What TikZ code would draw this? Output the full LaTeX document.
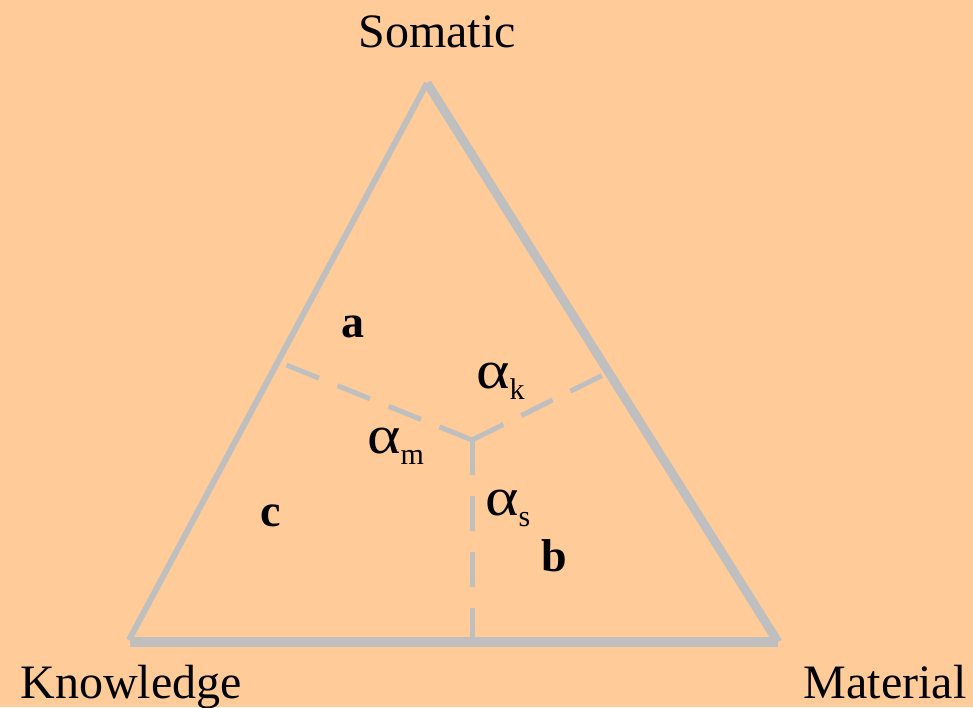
\documentclass[tikz,border=0pt]{standalone}
\usepackage{fontspec}
\setmainfont{Liberation Serif}
\definecolor{bgpeach}{RGB}{255,204,153}
\definecolor{linegray}{RGB}{191,191,191}
\newcommand{\subtxt}[1]{\raisebox{-11pt}{\fontsize{30}{32}\selectfont #1}}
\newcommand{\walpha}{\scalebox{1.18}[1]{α}}
\begin{document}
\begin{tikzpicture}[x=1pt,y=-1pt,
  dsh/.style={draw=linegray, line width=5pt, dash pattern=on 35pt off 20pt},
  lab/.style={font=\fontsize{48}{56}\selectfont, inner sep=0pt},
  letr/.style={font=\fontsize{46}{50}\selectfont\bfseries, inner sep=0pt},
  alp/.style={font=\fontsize{54}{60}\selectfont, inner sep=0pt}]
\fill[bgpeach] (0,0) rectangle (973,707);
\useasboundingbox (0,0) rectangle (973,707);
\coordinate (S) at (427,83);
\coordinate (K) at (129,640);
\coordinate (M) at (778,642);
\coordinate (KB) at (130,642);
\coordinate (C) at (472,440);
\coordinate (F) at (472,642);
\coordinate (L) at (279,362);
\coordinate (R) at (609,372);
% dashed lines
\draw[dsh] (C) -- (L);
\draw[dsh] (C) -- (R);
\draw[dsh, dash pattern=on 35pt off 21pt] (C) -- (F);
% triangle sides
\draw[linegray, line width=10pt] (KB) -- (M);
\draw[linegray, line width=6pt] (S) -- (K);
\draw[linegray, line width=9pt] (S) -- (M);
% labels
\node[lab, anchor=base] (som) at (437,47) {Somatic};
\node[lab, anchor=base] (kno) at (131,698) {Knowledge};
\node[lab, anchor=base] (mat) at (885,698) {Material};
\node[letr, anchor=base] (la) at (353,337) {a};
\node[letr, anchor=base] (lc) at (271,526) {c};
\node[letr, anchor=base] (lb) at (554,571) {b};
\node[alp, anchor=base west] (ak) at (476,388) {\walpha\subtxt{k}};
\node[alp, anchor=base west] (am) at (367,453) {\walpha\subtxt{m}};
\node[alp, anchor=base west] (as) at (485,515) {\walpha\subtxt{s}};
\end{tikzpicture}
\end{document}
